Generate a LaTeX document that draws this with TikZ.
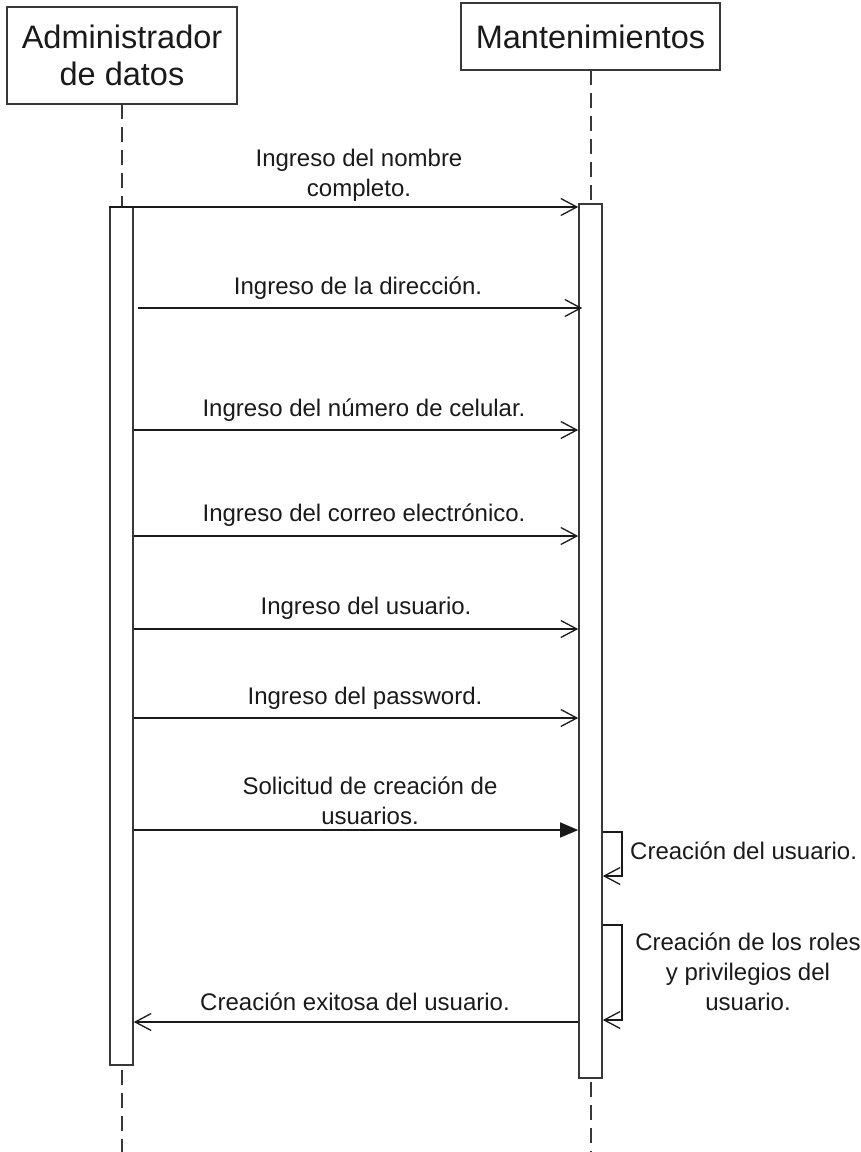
\documentclass[tikz,border=0pt]{standalone}
\usepackage{fontspec}
\setmainfont{Liberation Sans}
\usetikzlibrary{arrows.meta}
\definecolor{ink}{HTML}{1A1A1A}
\definecolor{frame}{HTML}{383838}
\begin{document}
\begin{tikzpicture}[x=1pt,y=-1pt,
  every node/.style={text=ink},
  actor/.style={draw=frame,line width=2pt,fill=white,align=center,inner sep=0pt,
    font=\fontsize{32.5}{37}\selectfont},
  bar/.style={draw=frame,line width=1.6pt,fill=white,minimum width=23pt,inner sep=0pt},
  lifeline/.style={draw=frame,line width=2pt,dash pattern=on 15pt off 8pt},
  msg/.style={draw=ink,line width=1.3pt,-{Straight Barb[length=16pt,width=17pt,line width=1.3pt]}},
  call/.style={draw=ink,line width=1.3pt,-{Triangle[length=18pt,width=15pt]}},
  lbl/.style={font=\fontsize{24}{30}\selectfont,align=center,inner sep=0pt}]
\useasboundingbox (0,0) rectangle (861,1152);

% lifelines
\draw[lifeline] (121.5,104) -- (121.5,1152);
\draw[lifeline] (590.5,70) -- (590.5,1152);

% participants
\node[actor,minimum width=230pt,minimum height=97pt] (adm) at (122,55.5) {Administrador\\de datos};
\node[actor,minimum width=259pt,minimum height=67pt] (man) at (590.5,36.5) {Mantenimientos};

% activation bars
\node[bar,minimum height=858pt] (barA) at (121.5,636) {};
\node[bar,minimum height=874pt] (barB) at (590.5,641) {};

% message levels
\coordinate (y1) at (0,207);
\coordinate (y2) at (0,308);
\coordinate (y3) at (0,430);
\coordinate (y4) at (0,536);
\coordinate (y5) at (0,629);
\coordinate (y6) at (0,718);
\coordinate (y7) at (0,830);
\coordinate (y8) at (0,876);
\coordinate (y9) at (0,925);
\coordinate (y10) at (0,1020);
\coordinate (y11) at (0,1022);
\coordinate (lx) at (622,0);

% messages to Mantenimientos
\draw[msg] (barA.west |- y1) -- (barB.west |- y1);
\draw[msg] ([xshift=4pt]barA.east |- y2) -- ([xshift=4pt]barB.west |- y2);
\draw[msg] (barA.east |- y3) -- (barB.west |- y3);
\draw[msg] (barA.east |- y4) -- (barB.west |- y4);
\draw[msg] (barA.east |- y5) -- (barB.west |- y5);
\draw[msg] (barA.east |- y6) -- (barB.west |- y6);
\draw[call] (barA.east |- y7) -- (barB.west |- y7);

% self calls
\draw[msg] ([yshift=-2pt]barB.east |- y7) -| (lx |- y8) -- (barB.east |- y8);
\draw[msg] (barB.east |- y9) -| (lx |- y10) -- (barB.east |- y10);

% reply
\draw[msg] (barB.west |- y11) -- (barA.east |- y11);

% labels
\node[lbl] (l1) at (359,175) {Ingreso del nombre\\completo.};
\node[lbl] (l2) at (358,288) {Ingreso de la dirección.};
\node[lbl] (l3) at (364,410) {Ingreso del número de celular.};
\node[lbl] (l4) at (364,515) {Ingreso del correo electrónico.};
\node[lbl] (l5) at (366,608) {Ingreso del usuario.};
\node[lbl] (l6) at (365,698) {Ingreso del password.};
\node[lbl] (l7) at (370,801) {Solicitud de creación de\\usuarios.};
\node[lbl,anchor=west] (l8) at (630,851) {Creación del usuario.};
\node[lbl] (l9) at (748,972) {Creación de los roles\\y privilegios del\\usuario.};
\node[lbl] (l10) at (355,1002) {Creación exitosa del usuario.};
\end{tikzpicture}
\end{document}
